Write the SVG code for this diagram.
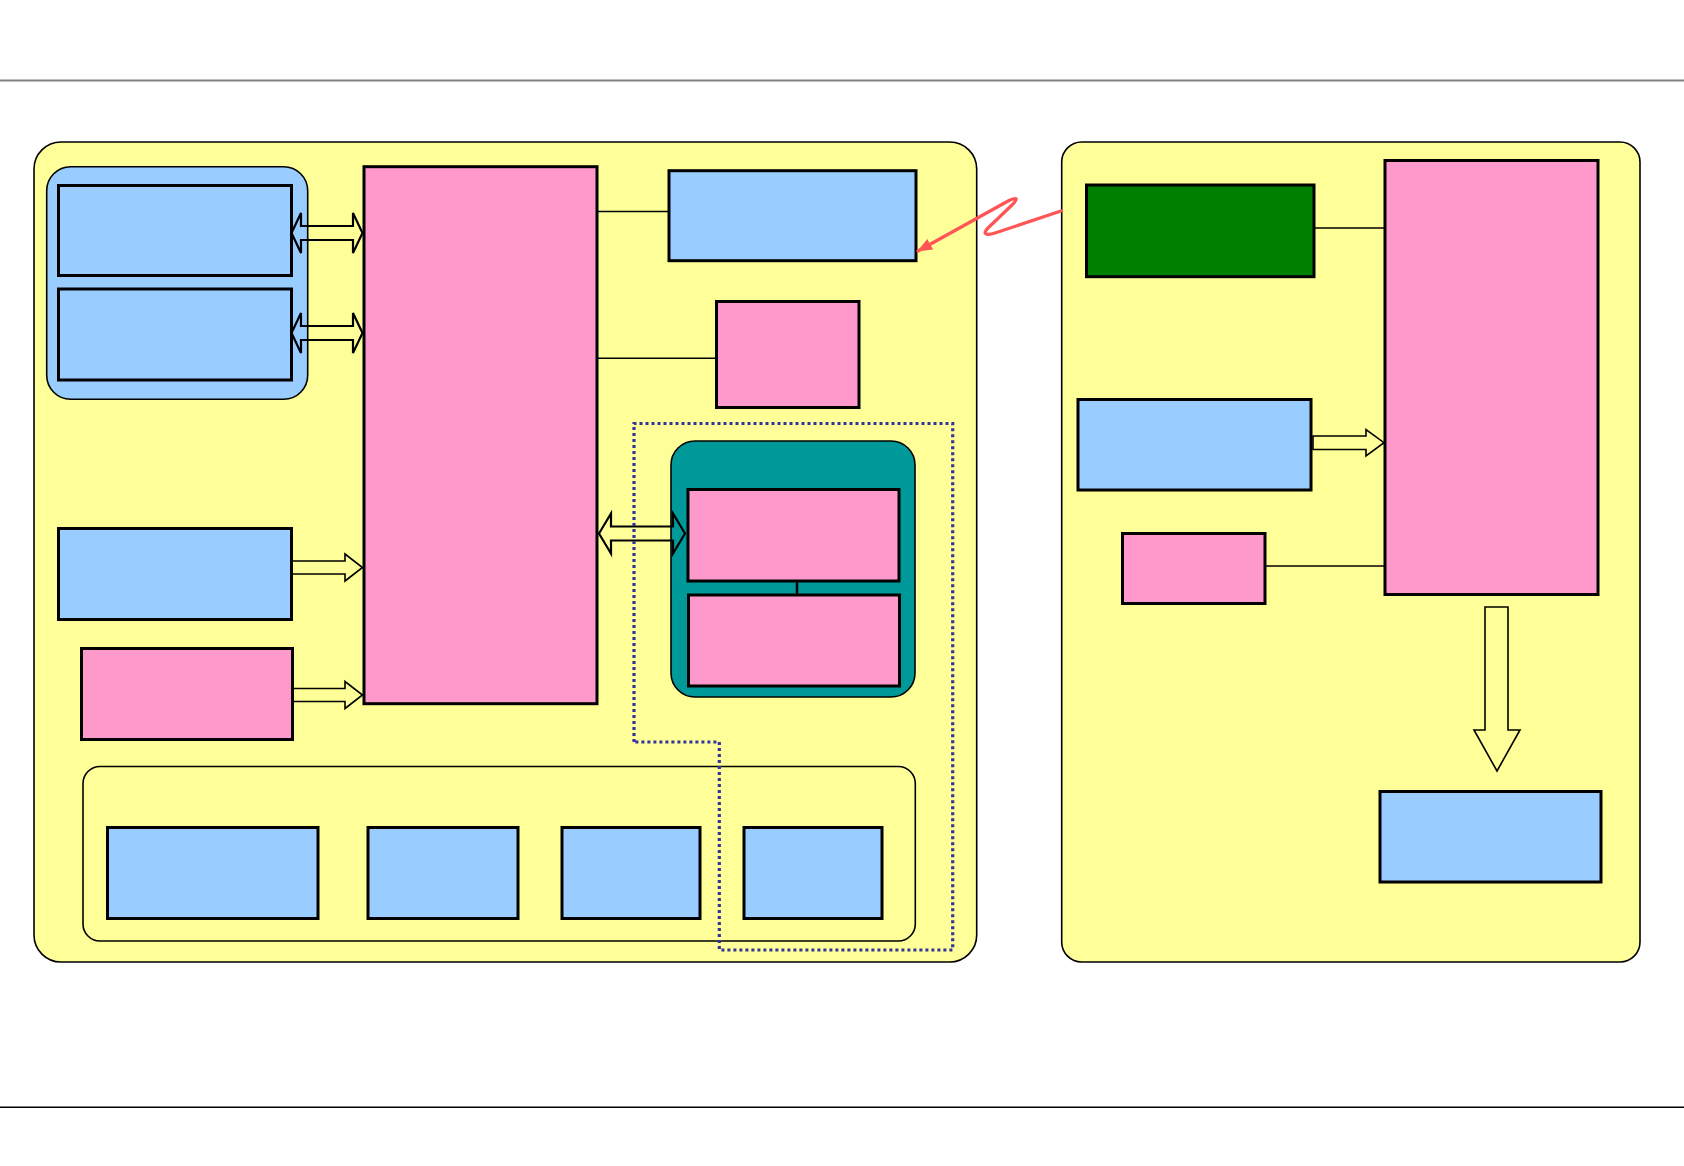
<svg xmlns="http://www.w3.org/2000/svg" width="1684" height="1166" viewBox="0 0 1684 1166">
<defs>
<style>
.panel{fill:#ffff99;stroke:#000;stroke-width:1.6}
.grp{stroke:#000;stroke-width:1.6}
.blue{fill:#99ccff;stroke:#000;stroke-width:3}
.pink{fill:#ff99cc;stroke:#000;stroke-width:3}
.green{fill:#008000;stroke:#000;stroke-width:3}
.line{stroke:#000;stroke-width:1.6;fill:none}
.barrow{fill:none;stroke:#000;stroke-width:2.2;stroke-linejoin:miter}
.sarrow{fill:none;stroke:#000;stroke-width:1.6;stroke-linejoin:miter}
.dotted{fill:none;stroke:#333399;stroke-width:3.2;stroke-dasharray:3 3}
</style>
<marker id="redhead" viewBox="0 0 15 12" refX="14" refY="6" markerWidth="15" markerHeight="12" markerUnits="userSpaceOnUse" orient="auto">
<path d="M0,0 L15,6 L0,12 z" fill="#ff5555"/>
</marker>
</defs>
<rect width="1684" height="1166" fill="#ffffff"/>
<line x1="0" y1="80.5" x2="1684" y2="80.5" stroke="#808080" stroke-width="1.8"/>
<line x1="0" y1="1107.3" x2="1684" y2="1107.3" stroke="#000" stroke-width="1.5"/>

<g id="panel-left"><rect class="panel" x="34" y="142" width="942.7" height="820" rx="27"/></g>
<g id="panel-right"><rect class="panel" x="1061.7" y="142" width="578.3" height="820" rx="20"/></g>

<g id="group-blue"><rect class="grp" fill="#99ccff" x="46.7" y="166.7" width="261" height="232.6" rx="24"/></g>
<g id="node-b1"><rect class="blue" x="58.5" y="185.5" width="233" height="90"/></g>
<g id="node-b2"><rect class="blue" x="58.5" y="289" width="233" height="91"/></g>
<g id="node-pink-main"><rect class="pink" x="364" y="166.7" width="233" height="537"/></g>
<g id="node-b3"><rect class="blue" x="58.5" y="528.5" width="233" height="91"/></g>
<g id="node-p2"><rect class="pink" x="81.5" y="648.5" width="211" height="91"/></g>
<g id="node-b-top"><rect class="blue" x="669" y="170.7" width="247" height="90"/></g>
<g id="node-p-small"><rect class="pink" x="716.5" y="301.5" width="142.5" height="106"/></g>

<g id="group-bottom"><rect class="grp" fill="none" x="83" y="766.5" width="832.3" height="174.5" rx="17"/></g>
<g id="node-bb1"><rect class="blue" x="107.5" y="827.5" width="210.5" height="91"/></g>
<g id="node-bb2"><rect class="blue" x="368" y="827.5" width="150" height="91"/></g>
<g id="node-bb3"><rect class="blue" x="562" y="827.5" width="138" height="91"/></g>
<g id="node-bb4"><rect class="blue" x="744" y="827.5" width="138" height="91"/></g>

<g id="group-teal"><rect class="grp" fill="#009999" x="671" y="441" width="244" height="256" rx="24"/></g>
<g id="node-tp1"><rect class="pink" x="688" y="489.5" width="211" height="91.5"/></g>
<g id="node-tp2"><rect class="pink" x="688.5" y="595" width="211" height="91"/></g>

<g id="node-green"><rect class="green" x="1086.5" y="185" width="227.5" height="91.7"/></g>
<g id="node-pink-right"><rect class="pink" x="1385" y="160.5" width="213" height="434"/></g>
<g id="node-b-right"><rect class="blue" x="1078" y="399.5" width="233" height="90.5"/></g>
<g id="node-p-right-small"><rect class="pink" x="1122.5" y="533.5" width="142.5" height="70"/></g>
<g id="node-b-right-bottom"><rect class="blue" x="1380" y="791.5" width="221" height="90.5"/></g>

<g id="connectors">
<line class="line" x1="597" y1="211.5" x2="669" y2="211.5"/>
<line class="line" x1="597" y1="358.3" x2="716.5" y2="358.3"/>
<line x1="797" y1="581" x2="797" y2="595" stroke="#000" stroke-width="2.5"/>
<line class="line" x1="1314" y1="228" x2="1385" y2="228"/>
<line class="line" x1="1265" y1="566" x2="1385" y2="566"/>

<polygon class="barrow" points="291.5,233 301,213 301,226 353,226 353,213 362.5,233 353,253 353,240 301,240 301,253"/>
<polygon class="barrow" points="291.5,333 301,313 301,326 353,326 353,313 362.5,333 353,353 353,340 301,340 301,353"/>
<polygon class="barrow" points="599,533.5 611,513.5 611,526.5 673,526.5 673,513.5 685,533.5 673,553.5 673,540.5 611,540.5 611,553.5"/>

<polygon class="sarrow" points="292,561 345,561 345,554 362.5,567.5 345,581 345,574 292,574"/>
<polygon class="sarrow" points="293,688.5 345,688.5 345,681.5 362.5,695 345,708.5 345,701.5 293,701.5"/>
<polygon class="sarrow" points="1313,436 1366,436 1366,429.5 1384,442.7 1366,456 1366,449.5 1313,449.5"/>
<polygon class="sarrow" points="1485,607 1508,607 1508,730 1520,730 1497,771 1474,730 1485,730"/>

<polyline class="dotted" points="634,742 634,423.5 952.7,423.5 952.7,950 719.3,950 719.3,742 634,742"/>

<path d="M1061,211 L995,233 C986,236 982,234 988,228 L1012,205 C1019,198 1017,197 1009,200.5 L918,251" fill="none" stroke="#ff5555" stroke-width="3.2" stroke-linecap="round" stroke-linejoin="round" marker-end="url(#redhead)"/>
</g>
</svg>
